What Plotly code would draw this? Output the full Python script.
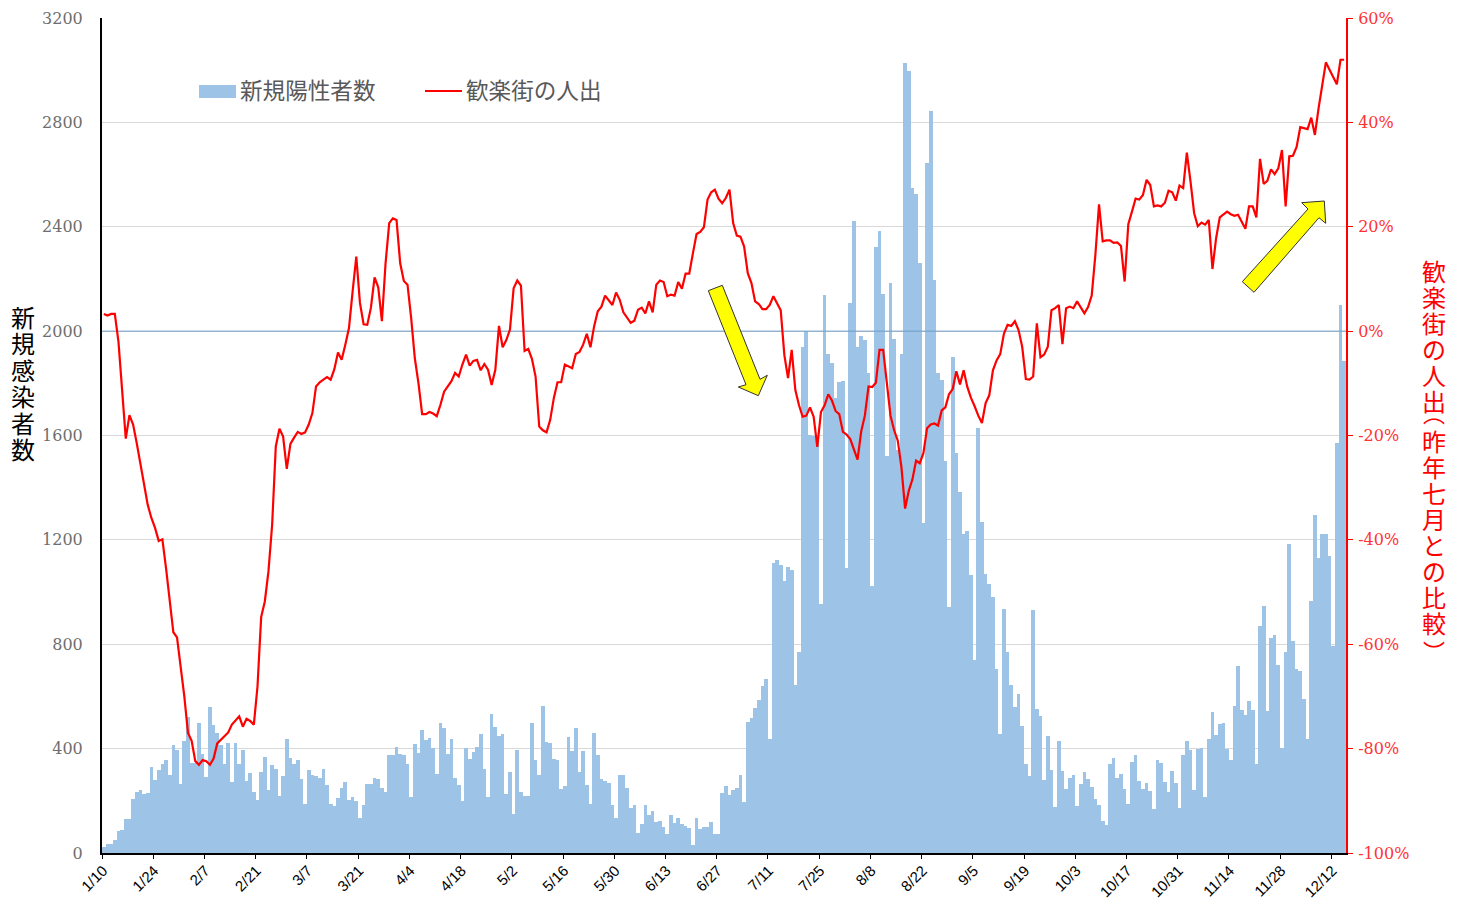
import plotly.graph_objects as go

tick_labels = ["1/10","1/24","2/7","2/21","3/7","3/21","4/4","4/18","5/2","5/16","5/30","6/13","6/27",
               "7/11","7/25","8/8","8/22","9/5","9/19","10/3","10/17","10/31","11/14","11/28","12/12"]

new_cases = [24,33,33,50,83,88,129,129,208,232,240,227,231,330,280,317,341,355,299,415,
395,266,429,520,346,346,500,380,292,558,492,458,412,342,420,273,420,343,393,277,
308,235,203,310,368,243,336,323,220,294,435,364,343,356,283,189,317,299,294,287,
322,259,186,179,211,249,271,202,215,200,135,185,264,264,289,283,249,232,375,375,
405,379,374,343,213,418,384,472,433,442,401,303,500,478,380,437,287,259,199,401,
360,386,406,455,322,215,534,483,448,456,226,310,148,393,235,217,217,500,356,299,
564,424,420,360,356,244,255,444,391,478,309,391,260,186,458,375,282,277,269,185,
135,299,299,249,174,183,78,110,183,146,162,120,121,98,73,144,116,133,111,105,
96,31,133,92,101,100,117,74,74,231,255,222,243,249,299,195,503,518,555,585,
640,668,435,1111,1124,1103,1041,1096,1083,645,771,1940,1999,1602,1598,1585,955,2140,1913,1876,
1745,1806,1810,1092,2107,2423,1940,1981,1966,1840,1024,2321,2382,2143,1523,2184,1970,1544,1913,3026,
2995,2549,2524,2262,1266,2643,2842,2197,1840,1813,1503,942,1902,1534,1382,1223,1233,1065,739,1628,
1270,1069,1030,980,705,455,937,770,644,559,608,485,341,295,930,552,524,278,448,318,
177,429,314,246,287,299,179,266,309,285,254,206,183,123,107,341,366,289,301,244,
189,347,374,276,246,268,238,167,355,345,273,234,314,268,171,374,429,393,243,398,
401,213,435,540,453,493,498,400,356,564,718,547,530,581,547,342,870,946,544,824,
834,720,401,770,1183,811,705,699,589,435,964,1295,1130,1222,1222,1140,793,1570,2100,1885]

nightlife = [3.3,3.0,3.3,3.3,-2.0,-11.6,-20.6,-16.1,-17.9,-21.5,-25.6,-29.4,-33.3,-35.8,-37.7,-40.2,-39.9,-45.4,-51.8,-57.7,
-58.7,-64.0,-70.0,-77.0,-78.5,-82.4,-83.1,-82.2,-82.4,-83.1,-81.9,-79.0,-78.3,-77.7,-76.9,-75.4,-74.7,-73.8,-75.8,-74.3,
-74.7,-75.4,-68.1,-54.8,-51.8,-46.0,-37.1,-22.1,-18.7,-20.2,-26.4,-21.6,-20.4,-19.3,-19.7,-19.4,-17.9,-15.7,-10.6,-9.8,
-9.3,-8.8,-9.3,-7.3,-4.1,-5.5,-2.6,0.6,7.6,14.3,5.4,1.3,1.2,4.5,10.3,8.4,1.9,13.0,20.7,21.6,
21.3,13.0,9.6,8.9,2.5,-5.2,-10.0,-15.9,-15.9,-15.5,-15.8,-16.3,-14.1,-11.6,-10.6,-9.6,-8.0,-8.7,-6.4,-4.5,
-6.6,-5.7,-5.5,-7.5,-6.3,-7.4,-10.3,-7.4,1.0,-3.1,-1.7,0.3,8.2,9.7,8.7,-3.8,-3.4,-5.3,-8.7,-18.3,
-19.0,-19.4,-17.0,-12.8,-9.8,-9.8,-6.4,-6.8,-7.1,-4.4,-4.0,-2.6,-0.5,-3.1,0.9,3.8,4.7,6.8,6.0,5.0,
7.4,6.0,3.6,2.7,1.6,2.0,4.1,4.5,3.4,5.7,3.6,8.9,9.7,9.4,6.7,7.0,6.8,9.4,8.1,11.0,
11.0,14.9,18.6,19.0,19.9,25.2,26.6,27.1,25.4,24.5,25.5,27.1,20.7,18.3,18.1,16.2,11.1,9.2,5.7,5.2,
4.2,4.2,5.0,6.7,5.3,4.0,-4.6,-9.0,-3.6,-11.3,-14.2,-16.4,-16.2,-14.6,-16.4,-22.2,-15.5,-14.2,-12.1,-13.3,
-15.3,-15.9,-19.3,-19.8,-20.7,-22.7,-24.6,-19.2,-16.2,-10.6,-10.7,-9.9,-3.6,-3.6,-9.7,-16.2,-19.0,-21.0,-26.1,-34.0,
-30.6,-28.4,-24.8,-25.3,-23.4,-18.6,-17.9,-17.7,-18.1,-15.2,-14.6,-12.1,-11.1,-7.7,-10.2,-7.5,-10.7,-12.8,-14.4,-16.2,
-17.6,-13.8,-12.3,-7.5,-5.6,-4.4,-0.5,1.2,1.0,1.9,0.2,-3.0,-9.2,-9.3,-8.7,1.5,-5.0,-4.5,-3.0,4.0,
4.4,5.0,-2.5,4.4,4.7,4.4,5.7,4.4,3.4,4.6,6.8,14.6,24.3,17.2,17.4,17.4,16.9,17.0,16.3,9.5,
20.5,22.9,25.4,25.2,26.1,29.0,28.0,23.9,24.1,23.9,24.6,26.9,26.6,25.0,27.9,27.4,34.2,28.7,22.6,20.1,
20.8,20.4,21.3,11.9,17.8,21.8,22.3,22.9,22.4,22.1,22.3,21.0,19.6,23.9,23.9,21.8,33.0,28.2,28.8,31.0,
30.1,31.2,34.7,23.9,33.5,33.6,35.3,39.1,38.9,38.7,40.9,37.6,42.7,47.2,51.5,50.1,48.7,47.3,52.0,52.0]

assert len(new_cases) == len(nightlife) == 340, (len(new_cases), len(nightlife))

W, H = 1463, 904
L, R, T, B = 102, 1346, 18, 853
days = len(new_cases)
x_pos = [i + 0.5 for i in range(days)]

def px_x(px): return (px - L) / (R - L) * days
def px_y(py): return (B - py) / (B - T) * 3200
def path(points):
    return "M" + " L".join(f"{px_x(a):.3f},{px_y(b):.2f}" for a, b in points) + " Z"
def pap_x(px): return (px - L) / (R - L)
def pap_y(py): return (B - py) / (B - T)

fig = go.Figure()
fig.add_bar(x=x_pos, y=new_cases, marker=dict(color="#9DC3E6", line=dict(width=0)), name="新規陽性者数",
            showlegend=False, yaxis="y")
fig.add_scatter(x=[0, days], y=[0, 0], mode="lines", line=dict(color="#6f9cc6", width=1),
                yaxis="y2", showlegend=False, hoverinfo="skip")
fig.add_scatter(x=x_pos, y=nightlife, mode="lines", line=dict(color="#FF0000", width=2.2), name="歓楽街の人出",
                yaxis="y2", showlegend=False)

shapes = [
    dict(type="path", xref="x", yref="y", layer="above", fillcolor="#FFFF00",
         line=dict(color="#333333", width=1),
         path=path([(708.3,290.7),(722.3,285.3),(760,379.3),(767.3,375.3),(758.3,395.7),(738.3,387),(746,384.7)])),
    dict(type="path", xref="x", yref="y", layer="above", fillcolor="#FFFF00",
         line=dict(color="#333333", width=1),
         path=path([(1242.3,281.7),(1308,209),(1301.7,202.7),(1324.3,201),(1325.7,223.3),(1319,217.7),(1254,292.3)])),
    dict(type="rect", xref="paper", yref="paper", x0=pap_x(199), x1=pap_x(236), y0=pap_y(98), y1=pap_y(85),
         fillcolor="#9DC3E6", line=dict(width=0)),
    dict(type="line", xref="paper", yref="paper", x0=pap_x(425), x1=pap_x(462), y0=pap_y(91), y1=pap_y(91),
         line=dict(color="#FF0000", width=2)),
]

CJK = "Noto Sans CJK JP"

def stacked(text, glyph=24):
    return "<br>".join(f'<span style="font-size:{glyph}px">{c}</span>' for c in text)

def label(text, px, py, size, color, xanchor="center"):
    return dict(text=text, x=pap_x(px), y=pap_y(py), xanchor=xanchor, yanchor="middle", xref="paper", yref="paper",
                showarrow=False, align="center", borderpad=0, font=dict(family=CJK, size=size, color=color))

ann = [
    label("新規陽性者数", 239, 89.5, 22.6, "#595959", "left"),
    label("歓楽街の人出", 465, 90, 22.6, "#595959", "left"),
    label(stacked("新規感染者数"), 22.5, 382, 20.3, "#000000"),
    label(stacked("歓楽街の人出"), 1434, 335, 20, "#FF0000"),
    label("︵", 1434, 412, 22, "#FF0000"),
    label(stacked("昨年七月との比較"), 1434, 531, 20, "#FF0000"),
    label("︶", 1434, 650, 22, "#FF0000"),
]

SERIF = "DejaVu Serif"
fig.update_layout(
    width=W, height=H, margin=dict(l=L, r=W - R, t=T, b=H - B, pad=0),
    paper_bgcolor="white", plot_bgcolor="white", bargap=0, showlegend=False,
    shapes=shapes, annotations=ann,
    xaxis=dict(range=[0, days], tickmode="array", tickvals=[14 * i for i in range(len(tick_labels))],
               ticktext=tick_labels, tickangle=-45, showgrid=False, zeroline=False, automargin=False,
               showline=True, linecolor="#000000", linewidth=2, ticks="outside", ticklen=4, tickwidth=1,
               ticklabelstandoff=-3, ticklabelshift=1,
               tickcolor="#000000", tickfont=dict(family="Liberation Sans", size=15, color="#000000")),
    yaxis=dict(range=[0, 3200], tick0=0, dtick=400, tickformat="d", showgrid=True, gridcolor="#D9D9D9", gridwidth=1,
               zeroline=False, showline=True, linecolor="#000000", linewidth=2, ticks="", ticklabelstandoff=14,
               automargin=False, tickfont=dict(family=SERIF, size=16, color="#6e6e6e")),
    yaxis2=dict(range=[-100, 60], overlaying="y", side="right", tickmode="array",
                tickvals=[-100, -80, -60, -40, -20, 0, 20, 40, 60],
                ticktext=["-100%", "-80%", "-60%", "-40%", "-20%", "0%", "20%", "40%", "60%"],
                showgrid=False, zeroline=False, showline=True, linecolor="#FF0000", linewidth=2, automargin=False,
                ticks="outside", ticklen=5, tickwidth=1, tickcolor="#FF0000", ticklabelstandoff=2,
                tickfont=dict(family=SERIF, size=16, color="#FF3333")),
)

fig.write_html("out.html", config=dict(displayModeBar=False),
               post_script="document.body.style.margin='0';")
